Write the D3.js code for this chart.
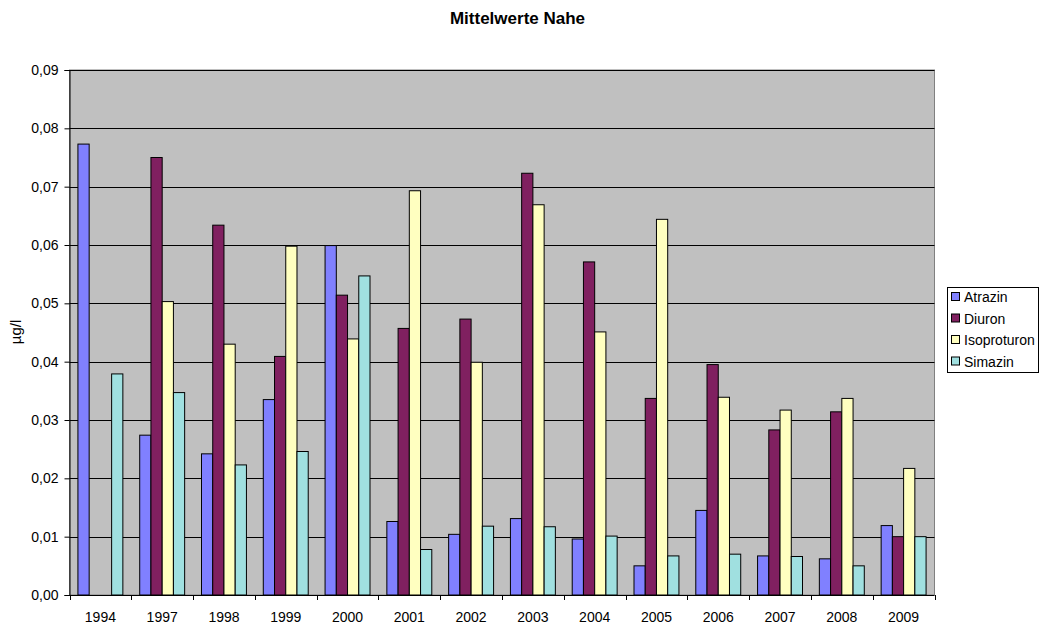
<!DOCTYPE html>
<html>
<head>
<meta charset="utf-8">
<script src="https://cdn.jsdelivr.net/npm/d3@7"></script>
<style>
  body { margin: 0; background: #fff; }
  svg { display: block; font-family: Arial, "Liberation Sans", sans-serif; }
</style>
</head>
<body>
<svg id="chart" width="1040" height="625"></svg>
<script>
// Jahre (Kategorien)
const years = ["1994","1997","1998","1999","2000","2001","2002","2003","2004","2005","2006","2007","2008","2009"];

// Mittelwerte je Wirkstoff in µg/l
const atrazin     = [0.0773, 0.0274, 0.0242, 0.0335, 0.0599, 0.0126, 0.0104, 0.0131, 0.0096, 0.0050, 0.0145, 0.0067, 0.0062, 0.0119];
const diuron      = [0,      0.0750, 0.0634, 0.0409, 0.0514, 0.0457, 0.0473, 0.0723, 0.0571, 0.0337, 0.0395, 0.0283, 0.0314, 0.0100];
const isoproturon = [0,      0.0503, 0.0430, 0.0598, 0.0439, 0.0693, 0.0399, 0.0669, 0.0451, 0.0644, 0.0339, 0.0317, 0.0337, 0.0217];
const simazin     = [0.0379, 0.0347, 0.0223, 0.0246, 0.0547, 0.0078, 0.0118, 0.0117, 0.0101, 0.0067, 0.0070, 0.0066, 0.0050, 0.0100];

const seriesNames = ["Atrazin", "Diuron", "Isoproturon", "Simazin"];
const seriesValues = [atrazin, diuron, isoproturon, simazin];
const seriesColors = ["#8080FF", "#802060", "#FFFFC0", "#A0E0E0"];

const yTicks = [0, 0.01, 0.02, 0.03, 0.04, 0.05, 0.06, 0.07, 0.08, 0.09];

const svg = d3.select("#chart");
const plot = { left: 69.5, right: 934.5, top: 70, bottom: 595 };

const x = d3.scaleBand().domain(years).range([plot.left, plot.right]).paddingInner(0).paddingOuter(0);
// Gap width 150 %: four bars plus 1.5 bar widths of spacing per category
const x1 = d3.scaleBand().domain(seriesNames)
  .range([x.bandwidth() * 0.75 / 5.5, x.bandwidth() - x.bandwidth() * 0.75 / 5.5]);
const y = d3.scaleLinear().domain([0, 0.09]).range([plot.bottom, plot.top]);

const fmt = v => d3.format(".2f")(v).replace(".", ",");

// Plot area background
svg.append("rect")
  .attr("x", plot.left).attr("y", plot.top)
  .attr("width", plot.right - plot.left).attr("height", plot.bottom - plot.top)
  .attr("fill", "#C0C0C0").attr("stroke", "#808080").attr("stroke-width", 1);

// Horizontal gridlines
svg.append("g").selectAll("line")
  .data(yTicks.filter(t => t > 0))
  .join("line")
  .attr("x1", plot.left).attr("x2", plot.right)
  .attr("y1", d => Math.round(y(d)) + 0.5).attr("y2", d => Math.round(y(d)) + 0.5)
  .attr("stroke", "#000").attr("stroke-width", 1);

// Bars
const groups = svg.append("g").selectAll("g")
  .data(years)
  .join("g")
  .attr("transform", d => `translate(${x(d)},0)`);

groups.selectAll("rect")
  .data((d, i) => seriesNames.map((s, k) => ({ s, k, v: seriesValues[k][i] })))
  .join("rect")
  .filter(d => d.v > 0)
  .attr("x", d => x1(d.s))
  .attr("width", x1.bandwidth())
  .attr("y", d => y(d.v))
  .attr("height", d => y(0) - y(d.v))
  .attr("fill", d => seriesColors[d.k])
  .attr("stroke", "#000").attr("stroke-width", 1);

// Y axis
const yAxis = d3.axisLeft(y).tickValues(yTicks).tickFormat(fmt).tickSize(5).tickPadding(6);
const gy = svg.append("g").attr("transform", `translate(${plot.left},0)`).call(yAxis);
gy.select(".domain").attr("stroke", "#000");
gy.selectAll(".tick line").attr("stroke", "#000");
gy.selectAll(".tick text").attr("font-size", 14).attr("fill", "#000")
  .attr("font-family", "Arial, 'Liberation Sans', sans-serif");

// X axis with ticks between categories
const gx = svg.append("g").attr("transform", `translate(0,${plot.bottom})`);
gx.append("line").attr("x1", plot.left).attr("x2", plot.right)
  .attr("y1", 0.5).attr("y2", 0.5).attr("stroke", "#000");
const boundaries = years.map(d => x(d)).concat([plot.right]);
gx.selectAll("line.tk").data(boundaries).join("line").attr("class", "tk")
  .attr("x1", d => Math.round(d) + 0.5).attr("x2", d => Math.round(d) + 0.5)
  .attr("y1", 0).attr("y2", 5).attr("stroke", "#000");
gx.selectAll("text").data(years).join("text")
  .attr("x", d => x(d) + x.bandwidth() / 2)
  .attr("y", 26.5)
  .attr("text-anchor", "middle")
  .attr("font-size", 14)
  .attr("fill", "#000")
  .text(d => d);

// Title
svg.append("text")
  .attr("x", 517.5).attr("y", 23.5)
  .attr("text-anchor", "middle")
  .attr("font-size", 17).attr("font-weight", "bold")
  .text("Mittelwerte Nahe");

// Y axis label
svg.append("text")
  .attr("transform", "translate(20.5,332) rotate(-90)")
  .attr("text-anchor", "middle")
  .attr("font-size", 15)
  .text("µg/l");

// Legend
const lg = svg.append("g").attr("transform", "translate(947,287)");
lg.append("rect").attr("x", 0.5).attr("y", 0.5).attr("width", 91).attr("height", 85)
  .attr("fill", "#fff").attr("stroke", "#000");
const items = lg.selectAll("g.item").data(seriesNames).join("g").attr("class", "item")
  .attr("transform", (d, i) => `translate(4,${10 + i * 21.5})`);
items.append("rect").attr("x", 0.5).attr("y", -4.5).attr("width", 8).attr("height", 8)
  .attr("fill", (d, i) => seriesColors[i]).attr("stroke", "#000");
items.append("text").attr("x", 13).attr("y", 5)
  .attr("font-size", 14).text(d => d);
</script>
</body>
</html>
